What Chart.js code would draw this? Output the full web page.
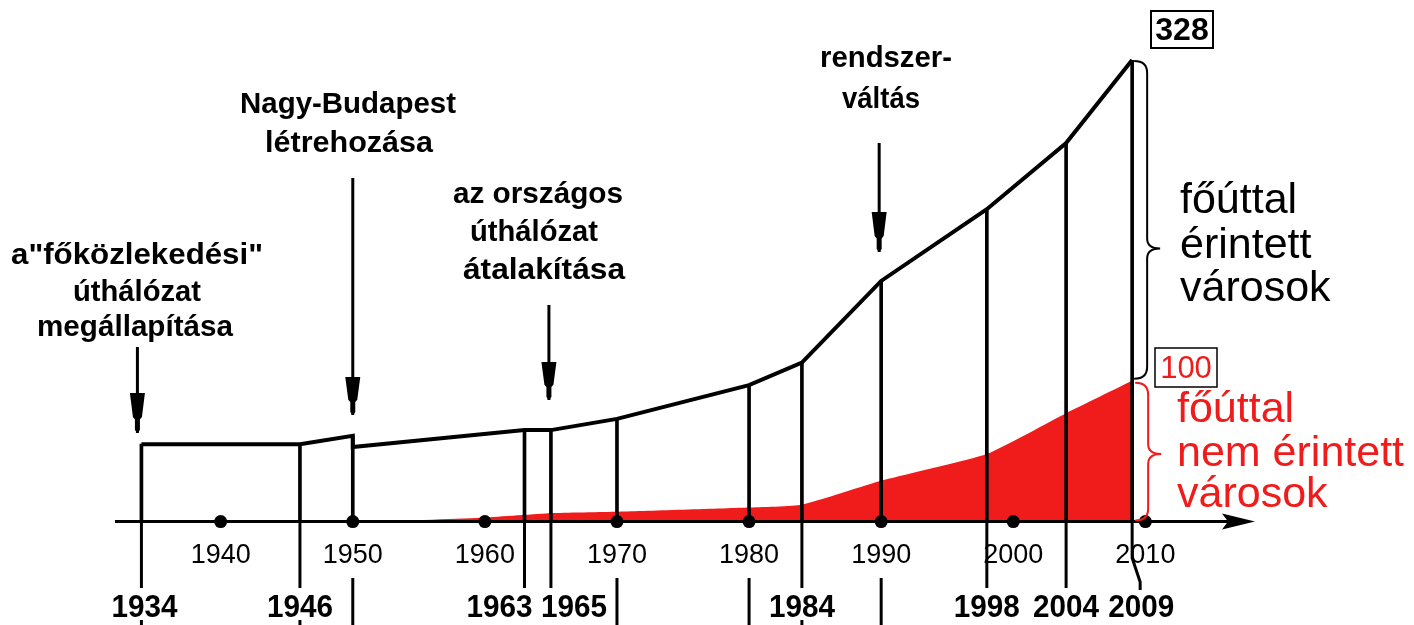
<!DOCTYPE html>
<html><head><meta charset="utf-8">
<script src="https://cdn.jsdelivr.net/npm/chart.js@4.4.1/dist/chart.umd.min.js"></script>
<style>html,body{margin:0;padding:0;background:#fff;}canvas{display:block;}</style>
</head><body>
<canvas id="c" width="1414" height="625"></canvas>
<script>
// ---- data ----
const lineYears  = [1934, 1946, 1950, 1950, 1963, 1965, 1970, 1980, 1984, 1990, 1998, 2004, 2009];
const lineValues = [55, 55, 61, 53, 65, 65, 73, 97, 113, 171, 222, 269, 328];
const redYears   = [1952, 1960, 1965, 1970, 1980, 1984, 1990, 1998, 2004, 2009];
const redValues  = [0, 3, 6, 7, 10, 12, 29, 48, 77, 100];
const decadeTicks = [1940, 1950, 1960, 1970, 1980, 1990, 2000, 2010];
const eventYears  = [1934, 1946, 1950, 1963, 1965, 1970, 1980, 1984, 1990, 1998, 2004, 2009];
const labeledYears = [1934, 1946, 1963, 1965, 1984, 1998, 2004, 2009];
const shortLinkYears = [1950, 1970, 1980, 1990];
const totalLabel = '328';
const redLabel = '100';
const noteYears = [1934, 1950, 1965, 1990];
const noteTexts = [
  ['a"főközlekedési"', 'úthálózat', 'megállapítása'],
  ['Nagy-Budapest', 'létrehozása'],
  ['az országos', 'úthálózat', 'átalakítása'],
  ['rendszer-', 'váltás']
];
const blackGroupText = ['főúttal', 'érintett', 'városok'];
const redGroupText = ['főúttal', 'nem érintett', 'városok'];
const braceTips = [194, 48];

// vertical bar heights derived from the line data (highest value at each event year)
const eventValues = eventYears.map(yr => Math.max(...lineValues.filter((v, i) => lineYears[i] === yr)));

// ---- layout (positions/styles only) ----
const FONT = '"Liberation Sans", Arial, sans-serif';
const RED = '#f01b1b';
const noteLayout = [
  {cx: [137, 137, 135], base: [264, 301, 336], w: [252, 128, 196], arrow: [347, 393, 433], dx: -4},
  {cx: [348, 349], base: [113, 152], w: [216, 168], arrow: [178, 377, 415], dx: 0},
  {cx: [538, 534, 544], base: [203, 241, 279], w: [170, 128, 162], arrow: [305, 362, 400], dx: -2},
  {cx: [886, 881], base: [67, 108], w: [132, 78], arrow: [143, 212, 252], dx: -2}
];
const yearLabelOffset = {1934: 3, 1963: -25, 1965: 23, 2009: 9};

function fitText(ctx, txt, cx, base, w, font, color, sy) {
  ctx.save();
  ctx.font = font; ctx.fillStyle = color || '#000';
  const m = ctx.measureText(txt).width;
  ctx.translate(cx, base);
  ctx.scale(w / m, sy || 1);
  ctx.textAlign = 'center'; ctx.textBaseline = 'alphabetic';
  ctx.fillText(txt, 0, 0);
  ctx.restore();
}

function drawArrow(ctx, x, y1, yh, y2) {
  ctx.save();
  ctx.strokeStyle = '#000'; ctx.fillStyle = '#000'; ctx.lineWidth = 3;
  ctx.beginPath(); ctx.moveTo(x, y1); ctx.lineTo(x, y2); ctx.stroke();
  const h = y2 - yh;
  ctx.beginPath();
  ctx.moveTo(x - 7.5, yh);
  ctx.lineTo(x + 7.5, yh);
  ctx.lineTo(x + 4.5, yh + h * 0.6);
  ctx.lineTo(x + 2.5, yh + h * 0.66);
  ctx.lineTo(x + 2.5, y2 - 3);
  ctx.lineTo(x, y2);
  ctx.lineTo(x - 2.5, y2 - 3);
  ctx.lineTo(x - 2.5, yh + h * 0.66);
  ctx.lineTo(x - 4.5, yh + h * 0.6);
  ctx.closePath(); ctx.fill();
  ctx.restore();
}

function drawBrace(ctx, x0, yTop, yTip, yBot, color) {
  const bx = x0 + 13, tx = x0 + 26;
  ctx.save();
  ctx.strokeStyle = color; ctx.lineWidth = 2;
  ctx.beginPath();
  ctx.moveTo(x0, yTop);
  ctx.quadraticCurveTo(bx, yTop, bx, yTop + 12);
  ctx.lineTo(bx, yTip - 10);
  ctx.quadraticCurveTo(bx, yTip, tx, yTip);
  ctx.quadraticCurveTo(bx, yTip, bx, yTip + 10);
  ctx.lineTo(bx, yBot - 12);
  ctx.quadraticCurveTo(bx, yBot, x0, yBot);
  ctx.stroke();
  ctx.restore();
}

const overlay = {
  id: 'overlay',
  afterDatasetsDraw(chart) {
    const {ctx, chartArea: ca} = chart;
    const xs = chart.scales.x, ys = chart.scales.y;
    const X = v => xs.getPixelForValue(v), Y = v => ys.getPixelForValue(v);
    const y0 = Y(0);
    ctx.save();
    ctx.strokeStyle = '#000'; ctx.fillStyle = '#000'; ctx.lineWidth = 3;
    // horizontal time axis with arrow
    ctx.beginPath(); ctx.moveTo(ca.left, y0); ctx.lineTo(ca.right - 26, y0); ctx.stroke();
    ctx.beginPath();
    ctx.moveTo(ca.right - 33, y0 - 8); ctx.lineTo(ca.right, y0); ctx.lineTo(ca.right - 33, y0 + 8); ctx.lineTo(ca.right - 27, y0);
    ctx.closePath(); ctx.fill();

    // connectors from axis to the bold year labels
    labeledYears.forEach(yr => {
      const px = X(yr);
      ctx.beginPath();
      if (yr === labeledYears[labeledYears.length - 1]) {
        ctx.moveTo(px, y0); ctx.lineTo(px, 558); ctx.lineTo(px + 8, 582); ctx.lineTo(px + 8, 590);
      } else {
        ctx.moveTo(px, y0); ctx.lineTo(px, 588);
      }
      ctx.stroke();
    });
    shortLinkYears.forEach(yr => {
      const px = X(yr);
      ctx.beginPath(); ctx.moveTo(px, 578); ctx.lineTo(px, 625); ctx.stroke();
    });
    [labeledYears[0], labeledYears[1], labeledYears[4]].forEach(yr => {
      const px = X(yr);
      ctx.beginPath(); ctx.moveTo(px, 620); ctx.lineTo(px, 625); ctx.stroke();
    });
    // bold year labels
    labeledYears.forEach(yr => {
      fitText(ctx, String(yr), X(yr) + (yearLabelOffset[yr] || 0), 617, 66, 'bold 30px ' + FONT, '#000', 1.05);
    });

    // annotations with arrows
    noteYears.forEach((yr, i) => {
      const L = noteLayout[i];
      noteTexts[i].forEach((t, j) => fitText(ctx, t, L.cx[j], L.base[j], L.w[j], 'bold 30px ' + FONT));
      drawArrow(ctx, X(yr) + L.dx, L.arrow[0], L.arrow[1], L.arrow[2]);
    });

    // braces and group labels at the last year
    const lastYear = lineYears[lineYears.length - 1];
    const lx = X(lastYear);
    drawBrace(ctx, lx + 2, Y(lineValues[lineValues.length - 1]) + 1, Y(braceTips[0]), Y(redValues[redValues.length - 1]) - 2, '#000');
    drawBrace(ctx, lx + 3, Y(redValues[redValues.length - 1]) + 2, Y(braceTips[1]), y0 - 1, RED);

    ctx.font = '43px ' + FONT; ctx.textAlign = 'left'; ctx.textBaseline = 'alphabetic';
    ctx.fillStyle = '#000';
    blackGroupText.forEach((t, j) => ctx.fillText(t, 1180, [213, 258, 301][j]));
    ctx.fillStyle = RED;
    redGroupText.forEach((t, j) => ctx.fillText(t, 1177, [422, 466, 507][j]));

    // value boxes
    ctx.lineWidth = 2; ctx.strokeStyle = '#000';
    ctx.strokeRect(1151, 11, 62, 37);
    ctx.fillStyle = '#000'; ctx.font = 'bold 32px ' + FONT; ctx.textAlign = 'center'; ctx.textBaseline = 'middle';
    ctx.fillText(totalLabel, 1182, 31);
    ctx.lineWidth = 1.5;
    ctx.strokeRect(1155, 348, 62, 39);
    ctx.fillStyle = RED; ctx.font = '31px ' + FONT;
    ctx.fillText(redLabel, 1186, 369);
    ctx.restore();
  }
};

new Chart(document.getElementById('c'), {
  type: 'line',
  data: {
    datasets: [
      {
        label: 'decades', type: 'line', showLine: false, order: 1, clip: false,
        data: decadeTicks.map(v => ({x: v, y: 0})),
        pointRadius: 6.5, pointBackgroundColor: '#000', pointBorderWidth: 0
      },
      {
        label: 'összes város', type: 'line', order: 2, clip: false,
        data: lineYears.map((v, i) => ({x: v, y: lineValues[i]})),
        borderColor: '#000', borderWidth: 4, pointRadius: 0, tension: 0, fill: false,
        borderJoinStyle: 'miter', borderCapStyle: 'butt'
      },
      {
        label: 'évek', type: 'bar', order: 3,
        data: eventYears.map((v, i) => ({x: v, y: eventValues[i]})),
        backgroundColor: '#000', borderWidth: 0, barThickness: 3
      },
      {
        label: 'főúttal nem érintett', type: 'line', order: 4,
        data: redYears.map((v, i) => ({x: v, y: redValues[i]})),
        borderColor: RED, borderWidth: 0, backgroundColor: RED, pointRadius: 0,
        fill: 'origin', tension: 0.15, cubicInterpolationMode: 'default'
      }
    ]
  },
  options: {
    responsive: false, animation: false, devicePixelRatio: 1,
    layout: {padding: {left: 115, right: 159, top: 60, bottom: 35}},
    plugins: {legend: {display: false}, tooltip: {enabled: false}},
    scales: {
      x: {
        type: 'linear', min: 1932, max: 2018.3, offset: false,
        grid: {display: false, drawTicks: false}, border: {display: false},
        afterBuildTicks: s => { s.ticks = decadeTicks.map(v => ({value: v})); },
        ticks: {autoSkip: false, maxRotation: 0, padding: 18, color: '#000',
                font: {family: FONT, size: 27}, callback: v => String(v)}
      },
      y: {display: false, min: 0, max: 328}
    }
  },
  plugins: [overlay]
});
</script>
</body></html>
